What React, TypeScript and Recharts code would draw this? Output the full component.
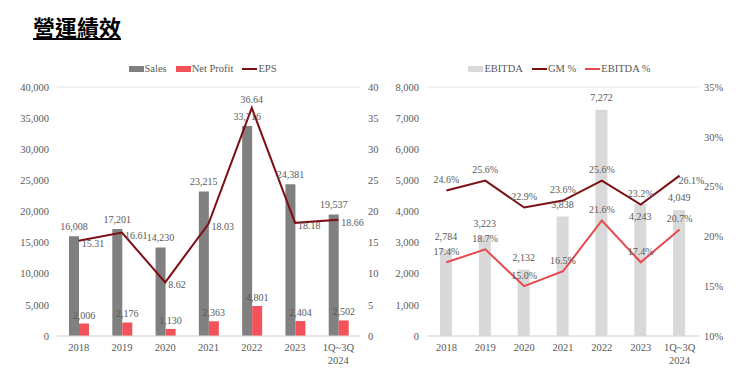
import React from 'react';
import { ComposedChart, Bar, Line, XAxis, YAxis, CartesianGrid, Legend, LabelList } from 'recharts';

const years = ['2018', '2019', '2020', '2021', '2022', '2023', '1Q~3Q\n2024'];
const sales = [16008, 17201, 14230, 23215, 33716, 24381, 19537];
const netProfit = [2006, 2176, 1130, 2363, 4801, 2404, 2502];
const eps = [15.31, 16.61, 8.62, 18.03, 36.64, 18.18, 18.66];
const ebitda = [2784, 3223, 2132, 3838, 7272, 4243, 4049];
const gmPct = [24.6, 25.6, 22.9, 23.6, 25.6, 23.2, 26.1];
const ebitdaPct = [17.4, 18.7, 15.0, 16.5, 21.6, 17.4, 20.7];

const salesTicks = [0, 5000, 10000, 15000, 20000, 25000, 30000, 35000, 40000];
const epsTicks = [0, 5, 10, 15, 20, 25, 30, 35, 40];
const ebitdaTicks = [0, 1000, 2000, 3000, 4000, 5000, 6000, 7000, 8000];
const pctTicks = [10, 15, 20, 25, 30, 35];

const leftLegend = ['Sales', 'Net Profit', 'EPS'];
const rightLegend = ['EBITDA', 'GM %', 'EBITDA %'];

const FONT = '"Liberation Serif", "DejaVu Serif", serif';
const TEXT = '#595959';
const GRID = '#e6e6e6';
const LBL = 10;
const TICK = 10.5;

const leftData = years.map((y, i) => ({ year: y, Sales: sales[i], 'Net Profit': netProfit[i], EPS: eps[i] }));
const rightData = years.map((y, i) => ({ year: y, EBITDA: ebitda[i], 'GM %': gmPct[i], 'EBITDA %': ebitdaPct[i] }));

const num = (v: number) => v.toLocaleString('en-US');
const pct = (v: number) => `${v.toFixed(1)}%`;

const YearTick = ({ x, y, payload }: any) => {
  const lines = String(payload.value).split('\n');
  return (
    <text x={x} y={y} textAnchor="middle" fill={TEXT} fontSize={TICK} fontFamily={FONT}>
      {lines.map((l, i) => (
        <tspan key={i} x={x} dy={i === 0 ? '0.71em' : '1.15em'}>{l}</tspan>
      ))}
    </text>
  );
};

const legendContent = (order: string[], shift: number) => (props: any) => {
  const items = [...(props.payload || [])].sort((a: any, b: any) => order.indexOf(a.value) - order.indexOf(b.value));
  return (
    <div style={{ height: 27, display: 'flex', justifyContent: 'center', alignItems: 'flex-start', paddingLeft: shift, fontFamily: FONT, fontSize: TICK, color: TEXT, gap: 9 }}>
      {items.map((p: any) => (
        <span key={p.value} style={{ display: 'flex', alignItems: 'center', lineHeight: '18px' }}>
          <svg width={15} height={8}>
            {p.type === 'line'
              ? <rect y={3} width={15} height={2} fill={p.color} />
              : <rect y={1} width={15} height={6} fill={p.color} />}
          </svg>
          <span style={{ marginLeft: 1 }}>{p.value}</span>
        </span>
      ))}
    </div>
  );
};

const epsMax = Math.max(...eps);
// peak value sits above the point, the rest to the right
const EpsLabel = (props: any) => {
  const { x, y, value } = props;
  const peak = value === epsMax;
  return (
    <text x={peak ? x : x + 3} y={peak ? y - 5 : y + 6} textAnchor={peak ? 'middle' : 'start'} fill={TEXT} fontSize={LBL} fontFamily={FONT}>
      {Number(value).toFixed(2)}
    </text>
  );
};

const GmLabel = (props: any) => {
  const { x, y, value, index } = props;
  const last = index === gmPct.length - 1;
  return (
    <text x={last ? x - 1 : x} y={last ? y + 8 : y - 8} textAnchor={last ? 'start' : 'middle'} fill={TEXT} fontSize={LBL} fontFamily={FONT}>
      {pct(Number(value))}
    </text>
  );
};

// EBITDA label goes above the bar, unless the GM line runs right there; then it drops under the line
const EbitdaLabel = (props: any) => {
  const { x, y, width, height, value, index } = props;
  const perUnit = height / Number(value);
  const bottom = y + height;
  const gmY = bottom - ((gmPct[index] - 10) / 25) * 8000 * perUnit;
  const under = Math.abs(gmY - y) < 14;
  return (
    <text x={x + width / 2} y={under ? gmY + 15 : y - 9} textAnchor="middle" fill={TEXT} fontSize={LBL} fontFamily={FONT}>
      {num(Number(value))}
    </text>
  );
};

const App: React.FC = () => {
  const axisTick = { fill: TEXT, fontSize: TICK, fontFamily: FONT };
  const lblProps = { fill: TEXT, fontSize: LBL, fontFamily: FONT };
  return (
    <div style={{ position: 'absolute', left: 0, top: 0, width: 740, height: 381, background: '#fff', overflow: 'hidden' }}>
      <div style={{ position: 'absolute', left: 33, top: 10, fontFamily: '"Noto Sans CJK TC", sans-serif', fontWeight: 700, fontSize: 22, textDecoration: 'underline', color: '#000' }}>
        營運績效
      </div>

      <div style={{ position: 'absolute', left: 0, top: 0 }}>
        <ComposedChart width={385} height={381} data={leftData} margin={{ top: 60, right: 0, left: 0, bottom: 15 }} barGap={0}>
          <CartesianGrid vertical={false} stroke={GRID} />
          <XAxis dataKey="year" interval={0} height={30} tickLine={false} axisLine={{ stroke: '#d9d9d9' }} tick={<YearTick />} />
          <YAxis yAxisId="left" width={57} domain={[0, 40000]} ticks={salesTicks} tickFormatter={num} axisLine={false} tickLine={false} tick={axisTick} />
          <YAxis yAxisId="right" orientation="right" width={25} domain={[0, 40]} ticks={epsTicks} axisLine={false} tickLine={false} tick={axisTick} />
          <Legend verticalAlign="top" content={legendContent(leftLegend, 20)} />
          <Bar yAxisId="left" dataKey="Sales" fill="#808080" barSize={10} isAnimationActive={false}>
            <LabelList dataKey="Sales" position="top" offset={6} formatter={(v: any) => num(Number(v))} {...lblProps} />
          </Bar>
          <Bar yAxisId="left" dataKey="Net Profit" fill="#f4525b" barSize={10} isAnimationActive={false}>
            <LabelList dataKey="Net Profit" position="top" formatter={(v: any) => num(Number(v))} {...lblProps} />
          </Bar>
          <Line yAxisId="right" dataKey="EPS" stroke="#7b0f14" strokeWidth={2} dot={false} isAnimationActive={false}>
            <LabelList dataKey="EPS" content={<EpsLabel />} />
          </Line>
        </ComposedChart>
      </div>

      <div style={{ position: 'absolute', left: 370, top: 0 }}>
        <ComposedChart width={370} height={381} data={rightData} margin={{ top: 60, right: 5, left: 0, bottom: 15 }}>
          <CartesianGrid vertical={false} stroke={GRID} />
          <XAxis dataKey="year" interval={0} height={30} tickLine={false} axisLine={{ stroke: '#d9d9d9' }} tick={<YearTick />} />
          <YAxis yAxisId="left" width={57} domain={[0, 8000]} ticks={ebitdaTicks} tickFormatter={num} axisLine={false} tickLine={false} tick={axisTick} />
          <YAxis yAxisId="right" orientation="right" width={36} domain={[10, 35]} ticks={pctTicks} tickFormatter={(v: number) => `${v}%`} axisLine={false} tickLine={false} tickSize={2} tickMargin={3} tick={axisTick} />
          <Legend verticalAlign="top" content={legendContent(rightLegend, 14)} />
          <Bar yAxisId="left" dataKey="EBITDA" fill="#d9d9d9" barSize={12} isAnimationActive={false}>
            <LabelList dataKey="EBITDA" content={<EbitdaLabel />} />
          </Bar>
          <Line yAxisId="right" dataKey="GM %" stroke="#7b0f14" strokeWidth={2} dot={false} isAnimationActive={false}>
            <LabelList dataKey="GM %" content={<GmLabel />} />
          </Line>
          <Line yAxisId="right" dataKey="EBITDA %" stroke="#e8474b" strokeWidth={2} dot={false} isAnimationActive={false}>
            <LabelList dataKey="EBITDA %" position="top" offset={7} formatter={(v: any) => pct(Number(v))} {...lblProps} />
          </Line>
        </ComposedChart>
      </div>
    </div>
  );
};

export default App;
